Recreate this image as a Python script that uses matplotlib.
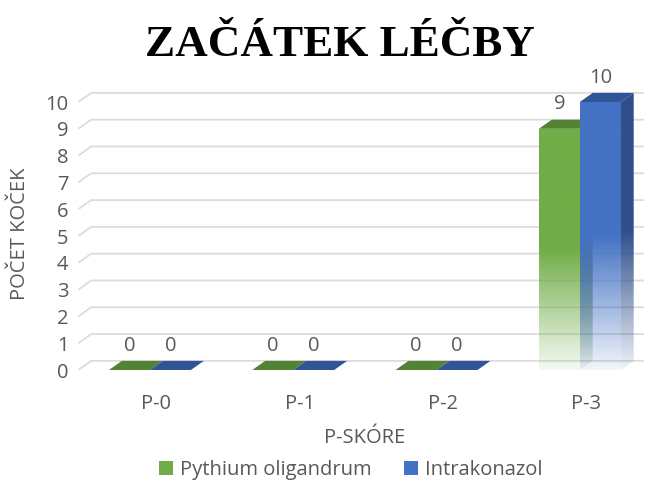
import numpy as np
import matplotlib
matplotlib.use("Agg")
import matplotlib.pyplot as plt
from matplotlib.patches import Polygon, Patch

# ---- data ----
categories = ["P-0", "P-1", "P-2", "P-3"]
series_names = ["Pythium oligandrum", "Intrakonazol"]
pythium = [0, 0, 0, 9]
intrakonazol = [0, 0, 0, 10]
yticks = list(range(0, 11))
title = "ZAČÁTEK LÉČBY"
xlabel = "P-SKÓRE"
ylabel = "POČET KOČEK"

# ---- style ----
FRONT = ["#70AD47", "#4472C4"]
SIDE = ["#4E7F30", "#2E4F8C"]
TOP = ["#548235", "#2F5597"]
GRID = "#dcdcdc"
TXT = "#595959"
BAR_W = 0.286
DX, DY = 0.09, 0.34   # pseudo-3D depth in data units
FONT = "Open Sans"
FS = 14.5

fig = plt.figure(figsize=(6.62, 4.83), dpi=100)
ax = fig.add_axes([78.3 / 662, 113 / 483, 566 / 662, 11 * 26.8 / 483])
XMIN, XMAX = -0.5, 3.45
YMAX = 11


def grad_img(color, alpha_lo=0.07, solid_frac=0.5, n=200):
    rgb = np.array(matplotlib.colors.to_rgb(color))
    f = np.linspace(0, 1, n)
    a = np.clip(alpha_lo + (1 - alpha_lo) * f / solid_frac, 0, 1)
    img = np.zeros((n, 2, 4))
    img[:, :, :3] = rgb
    img[:, :, 3] = a[:, None]
    return img


def face(poly_pts, color, h, z, gradient=True):
    pts = np.array(poly_pts)
    if gradient and h > 0:
        patch = Polygon(pts, closed=True, facecolor="none", edgecolor="none",
                        transform=ax.transData)
        ax.add_patch(patch)
        im = ax.imshow(grad_img(color), origin="lower", aspect="auto",
                       extent=(pts[:, 0].min(), pts[:, 0].max(), 0, h),
                       zorder=z, interpolation="bilinear")
        im.set_clip_path(patch)
    else:
        ax.add_patch(Polygon(pts, closed=True, facecolor=color,
                             edgecolor="none", zorder=z))


# back-wall gridlines
for v in yticks:
    ax.plot([XMIN, XMIN + DX, XMAX], [v, v + DY, v + DY], color=GRID,
            lw=1.3, zorder=1, solid_capstyle="butt")

x = np.arange(len(categories))
for si, vals in enumerate([pythium, intrakonazol]):
    for ci, h in enumerate(vals):
        x0 = x[ci] - BAR_W + si * BAR_W
        x1 = x0 + BAR_W
        z = 3 + si * 3
        if h > 0:
            face([(x0, 0), (x1, 0), (x1, h), (x0, h)], FRONT[si], h, z)
            face([(x1, 0), (x1 + DX, DY), (x1 + DX, h + DY), (x1, h)],
                 SIDE[si], h + DY, z + 1)
        face([(x0, h), (x1, h), (x1 + DX, h + DY), (x0 + DX, h + DY)],
             TOP[si], h, z + 2, gradient=False)
        ax.annotate(f"{h}", xy=((x0 + x1) / 2, h), xytext=(0, 17.5),
                    textcoords="offset points", ha="center", va="center",
                    fontsize=FS, color=TXT, family=FONT, zorder=10)

ax.set_xlim(XMIN, XMAX)
ax.set_ylim(0, YMAX)
for s in ax.spines.values():
    s.set_visible(False)
ax.set_yticks(yticks)
ax.set_yticklabels([str(t) for t in yticks], fontsize=FS, color=TXT, family=FONT)
ax.set_xticks(x + DX / 2)
ax.set_xticklabels(categories, fontsize=FS, color=TXT, family=FONT)
ax.tick_params(axis="both", length=0)
ax.tick_params(axis="y", pad=7)
ax.tick_params(axis="x", pad=17)

fig.text(0.513, 1 - 45 / 483, title, ha="center", va="center", fontsize=32.5,
         fontweight="bold", family="Liberation Serif", color="black")
fig.text(365 / 662, 1 - 438 / 483, xlabel, ha="center", va="center",
         fontsize=FS, color=TXT, family=FONT)
fig.text(20 / 662, 1 - 234 / 483, ylabel, ha="center", va="center",
         rotation=90, fontsize=FS, color=TXT, family=FONT)

handles = [Patch(facecolor=FRONT[0]), Patch(facecolor=FRONT[1])]
fig.legend(handles, series_names, loc="center", bbox_to_anchor=(0.53, 1 - 470 / 483),
           ncol=2, frameon=False, handlelength=0.7, handleheight=0.7,
           handletextpad=0.35, columnspacing=1.6,
           prop={"family": FONT, "size": FS}, labelcolor=TXT)

fig.savefig("out.png", dpi=100)
